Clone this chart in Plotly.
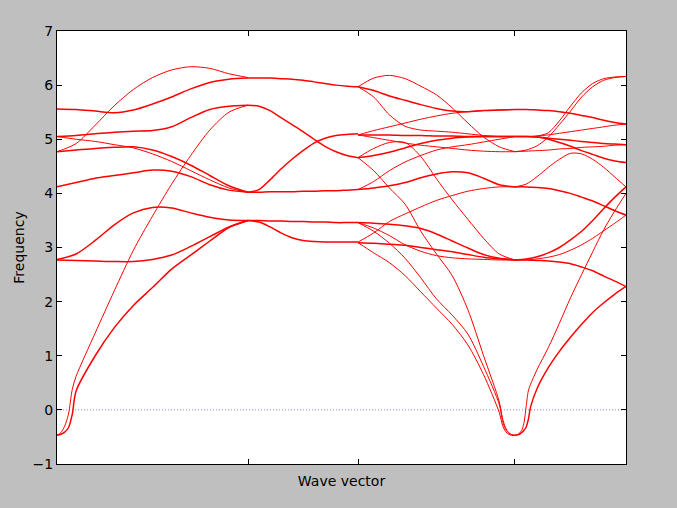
import plotly.graph_objs as go

# high-symmetry points along the path (axis units 0..1) and the y ticks
Q_POINTS = [0.0, 0.3357, 0.5290, 0.8049, 1.0]
Y_TICKS = [-1, 0, 1, 2, 3, 4, 5, 6, 7]
Y_TICK_TEXT = ['\u22121', '0', '1', '2', '3', '4', '5', '6', '7']
ZERO_X = [0.0, 1.0]
ZERO_Y = [0.0, 0.0]

# sampling positions inside a segment (fraction of the segment)
STEP = [0.0, 0.1, 0.2, 0.3, 0.4, 0.5, 0.6, 0.7, 0.8, 0.9, 1.0]
FINE_SEG1 = [0.0, 0.02, 0.04, 0.06, 0.08, 0.1, 0.2, 0.3, 0.4, 0.5, 0.6, 0.7, 0.8, 0.9, 1.0]
FINE_SEG3 = [0.0, 0.1, 0.2, 0.3, 0.4, 0.5, 0.6, 0.7, 0.8, 0.9, 0.92, 0.94, 0.96, 0.98, 1.0]
FINE_SEG4 = [0.0, 0.02, 0.04, 0.06, 0.08, 0.1, 0.12, 0.14, 0.2, 0.3, 0.4, 0.5, 0.6, 0.7, 0.8, 0.9, 1.0]

# segment 1
S1_TOP = [4.77, 4.92, 5.26, 5.62, 5.92, 6.14, 6.28, 6.34, 6.31, 6.21, 6.14]
S1_555 = [5.56, 5.55, 5.52, 5.49, 5.54, 5.65, 5.78, 5.93, 6.05, 6.11, 6.13]
S1_505_UP = [5.05, 5.07, 5.10, 5.13, 5.15, 5.16, 5.23, 5.40, 5.55, 5.61, 5.63]
S1_505_DN = [5.05, 5.00, 4.96, 4.90, 4.84, 4.73, 4.59, 4.42, 4.25, 4.10, 4.02]
S1_485 = [4.77, 4.80, 4.83, 4.85, 4.86, 4.80, 4.68, 4.52, 4.33, 4.14, 4.02]
S1_412 = [4.12, 4.20, 4.28, 4.33, 4.38, 4.43, 4.41, 4.31, 4.16, 4.06, 4.02]
S1_277_HUMP = [2.78, 2.88, 3.13, 3.42, 3.64, 3.74, 3.73, 3.64, 3.56, 3.51, 3.50]
S1_277_FLAT = [2.77, 2.76, 2.75, 2.74, 2.74, 2.78, 2.86, 3.02, 3.20, 3.38, 3.50]
S1_AC_STEEP = [-0.47, -0.42, -0.30, -0.08, 0.38, 0.62, 1.42, 2.20, 2.95, 3.58, 4.17, 4.70, 5.17, 5.50, 5.63]
S1_AC_SOFT = [-0.47, -0.45, -0.41, -0.33, -0.08, 0.35, 1.00, 1.52, 1.93, 2.26, 2.60, 2.86, 3.12, 3.37, 3.50]

# segment 2
S2_TOP = [6.13, 6.13, 6.13, 6.12, 6.11, 6.09, 6.06, 6.03, 6.00, 5.98, 5.97]
S2_DN = [5.63, 5.61, 5.53, 5.40, 5.27, 5.14, 5.00, 4.87, 4.77, 4.70, 4.66]
S2_UP = [4.02, 4.07, 4.25, 4.45, 4.63, 4.79, 4.93, 5.02, 5.07, 5.09, 5.10]
S2_FLAT4 = [4.02, 4.02, 4.03, 4.03, 4.03, 4.04, 4.04, 4.05, 4.05, 4.06, 4.07]
S2_FLAT35 = [3.50, 3.50, 3.49, 3.49, 3.48, 3.48, 3.47, 3.47, 3.46, 3.46, 3.46]
S2_DN35 = [3.50, 3.47, 3.38, 3.27, 3.18, 3.13, 3.11, 3.10, 3.10, 3.10, 3.10]

# segment 3
S3_A = [5.97, 6.13, 6.18, 6.12, 5.98, 5.82, 5.58, 5.30, 5.04, 4.86, 4.77]
S3_B = [5.97, 5.90, 5.80, 5.72, 5.64, 5.57, 5.52, 5.51, 5.53, 5.54, 5.55]
S3_C = [5.97, 5.78, 5.45, 5.24, 5.17, 5.15, 5.13, 5.10, 5.07, 5.05, 5.05]
S3_RISE = [5.08, 5.16, 5.23, 5.30, 5.37, 5.43, 5.48, 5.51, 5.53, 5.54, 5.55]
S3_FLAT = [5.08, 5.08, 5.08, 5.07, 5.07, 5.06, 5.06, 5.05, 5.05, 5.05, 5.05]
S3_DN477 = [5.08, 5.03, 4.98, 4.93, 4.89, 4.86, 4.83, 4.80, 4.78, 4.77, 4.77]
S3_466_UP = [4.66, 4.70, 4.76, 4.84, 4.92, 4.98, 5.02, 5.04, 5.05, 5.05, 5.05]
S3_466_HUMP = [4.66, 4.83, 4.94, 4.94, 4.68, 4.27, 3.88, 3.52, 3.17, 2.88, 2.77]
S3_407_HUMP = [4.07, 4.10, 4.14, 4.20, 4.29, 4.36, 4.40, 4.38, 4.28, 4.16, 4.12]
S3_407_UP = [4.07, 4.22, 4.42, 4.58, 4.70, 4.80, 4.86, 4.90, 4.95, 5.00, 5.05]
S3_31_UP = [3.10, 3.27, 3.48, 3.62, 3.75, 3.87, 3.96, 4.04, 4.09, 4.12, 4.12]
S3_346_G1 = [3.46, 3.45, 3.43, 3.40, 3.35, 3.25, 3.12, 2.99, 2.87, 2.80, 2.77]
S3_346_G3 = [3.46, 3.36, 3.22, 3.05, 2.93, 2.85, 2.81, 2.79, 2.78, 2.77, 2.77]
S3_31_G2 = [3.09, 3.08, 3.06, 3.04, 3.00, 2.96, 2.92, 2.87, 2.82, 2.79, 2.77]
S3_DIP_A = [4.66, 4.42, 4.10, 3.80, 3.30, 2.88, 2.48, 1.85, 1.00, 0.15, -0.15, -0.33, -0.42, -0.46, -0.47]
S3_DIP_B = [3.46, 3.30, 3.08, 2.80, 2.44, 2.05, 1.75, 1.40, 0.80, 0.10, -0.20, -0.36, -0.43, -0.46, -0.47]
S3_DIP_C = [3.09, 2.90, 2.72, 2.48, 2.18, 1.88, 1.58, 1.20, 0.65, -0.05, -0.28, -0.40, -0.45, -0.47, -0.47]

# segment 4
S4_477_TOP = [4.77, 4.80, 4.88, 5.04, 5.27, 5.52, 5.78, 5.97, 6.09, 6.14, 6.16]
S4_505_TOP = [5.05, 5.05, 5.06, 5.12, 5.34, 5.61, 5.86, 6.03, 6.12, 6.15, 6.16]
S4_555 = [5.55, 5.55, 5.54, 5.53, 5.51, 5.48, 5.44, 5.40, 5.35, 5.31, 5.28]
S4_505_UP = [5.05, 5.05, 5.06, 5.08, 5.11, 5.14, 5.17, 5.20, 5.23, 5.26, 5.28]
S4_505_DN = [5.05, 5.05, 5.04, 5.02, 5.00, 4.98, 4.96, 4.94, 4.92, 4.91, 4.90]
S4_477_UP = [4.77, 4.78, 4.79, 4.80, 4.82, 4.83, 4.85, 4.86, 4.87, 4.89, 4.90]
S4_505_DN457 = [5.05, 5.05, 5.04, 5.00, 4.94, 4.87, 4.79, 4.72, 4.65, 4.60, 4.57]
S4_412_HUMP = [4.12, 4.17, 4.31, 4.48, 4.63, 4.74, 4.73, 4.63, 4.48, 4.30, 4.12]
S4_412_DN = [4.12, 4.12, 4.11, 4.09, 4.05, 4.00, 3.93, 3.86, 3.77, 3.68, 3.60]
S4_277_DN = [2.77, 2.77, 2.76, 2.75, 2.73, 2.70, 2.64, 2.57, 2.47, 2.38, 2.28]
S4_277_UP4 = [2.77, 2.79, 2.83, 2.90, 3.00, 3.14, 3.30, 3.50, 3.72, 3.93, 4.12]
S4_277_UP36 = [2.77, 2.77, 2.79, 2.82, 2.87, 2.95, 3.05, 3.17, 3.31, 3.45, 3.60]
S4_AC_STEEP = [-0.47, -0.46, -0.43, -0.38, -0.25, 0.05, 0.35, 0.47, 0.75, 1.15, 1.60, 2.07, 2.50, 2.92, 3.33, 3.68, 4.00]
S4_AC_SOFT = [-0.47, -0.46, -0.45, -0.42, -0.38, -0.32, -0.18, 0.05, 0.40, 0.78, 1.08, 1.34, 1.58, 1.80, 1.98, 2.14, 2.28]

THIN = 1.0
THICK = 1.5

bands = [
    (0, STEP, S1_TOP, THIN), (0, STEP, S1_555, THICK), (0, STEP, S1_505_UP, THICK),
    (0, STEP, S1_505_DN, THIN), (0, STEP, S1_485, THICK), (0, STEP, S1_412, THICK),
    (0, STEP, S1_277_HUMP, THICK), (0, STEP, S1_277_FLAT, THICK),
    (0, FINE_SEG1, S1_AC_STEEP, THIN), (0, FINE_SEG1, S1_AC_SOFT, THICK),
    (1, STEP, S2_TOP, THICK), (1, STEP, S2_DN, THICK), (1, STEP, S2_UP, THICK),
    (1, STEP, S2_FLAT4, THICK), (1, STEP, S2_FLAT35, THICK), (1, STEP, S2_DN35, THICK),
    (2, STEP, S3_A, THIN), (2, STEP, S3_B, THICK), (2, STEP, S3_C, THIN),
    (2, STEP, S3_RISE, THIN), (2, STEP, S3_FLAT, THICK), (2, STEP, S3_DN477, THIN),
    (2, STEP, S3_466_UP, THICK), (2, STEP, S3_466_HUMP, THIN), (2, STEP, S3_407_HUMP, THICK),
    (2, STEP, S3_407_UP, THIN), (2, STEP, S3_31_UP, THIN), (2, STEP, S3_346_G1, THICK),
    (2, STEP, S3_346_G3, THIN), (2, STEP, S3_31_G2, THICK),
    (2, FINE_SEG3, S3_DIP_A, THIN), (2, FINE_SEG3, S3_DIP_B, THIN), (2, FINE_SEG3, S3_DIP_C, THIN),
    (3, STEP, S4_477_TOP, THIN), (3, STEP, S4_505_TOP, THIN), (3, STEP, S4_555, THICK),
    (3, STEP, S4_505_UP, THIN), (3, STEP, S4_505_DN, THICK), (3, STEP, S4_477_UP, THIN),
    (3, STEP, S4_505_DN457, THICK), (3, STEP, S4_412_HUMP, THIN), (3, STEP, S4_412_DN, THICK),
    (3, STEP, S4_277_DN, THICK), (3, STEP, S4_277_UP4, THICK), (3, STEP, S4_277_UP36, THIN),
    (3, FINE_SEG4, S4_AC_STEEP, THIN), (3, FINE_SEG4, S4_AC_SOFT, THICK),
]


def seg_x(i, fracs):
    a, b = Q_POINTS[i], Q_POINTS[i + 1]
    return [a + f * (b - a) for f in fracs]


fig = go.Figure()

# dotted zero line
fig.add_trace(go.Scatter(x=ZERO_X, y=ZERO_Y, mode='lines', hoverinfo='skip', showlegend=False,
                         line=dict(color='rgba(70,70,200,0.65)', width=1, dash='1px,2px')))

for seg, fracs, freqs, w in bands:
    fig.add_trace(go.Scatter(x=seg_x(seg, fracs), y=freqs, mode='lines', hoverinfo='skip',
                             showlegend=False,
                             line=dict(color='#ff0000', width=w, shape='spline', smoothing=0.8)))

axis_font = dict(family='DejaVu Sans', size=14, color='black')

fig.update_layout(
    width=677, height=508,
    margin=dict(l=57, r=51, t=31, b=44),
    paper_bgcolor='#bfbfbf', plot_bgcolor='white',
    font=axis_font,
)
fig.update_xaxes(range=[0, 1], showgrid=False, zeroline=False,
                 tickvals=Q_POINTS[1:-1], ticktext=['', '', ''],
                 ticks='inside', ticklen=5, tickcolor='black', tickwidth=1,
                 showline=True, linecolor='black', linewidth=1, mirror='ticks',
                 title=dict(text='Wave vector', font=axis_font, standoff=9))
fig.update_yaxes(range=[-1, 7], showgrid=False, zeroline=False,
                 tickvals=Y_TICKS, ticktext=Y_TICK_TEXT, tickfont=axis_font,
                 ticks='inside', ticklen=5, tickcolor='black', tickwidth=1,
                 showline=True, linecolor='black', linewidth=1, mirror='ticks',
                 title=dict(text='Frequency', font=axis_font, standoff=4))

# drop the default page margin so the figure sits at the window corner
fig.write_html("out.html", config={'displayModeBar': False},
               post_script="document.body.style.margin='0';"
                           "document.body.style.background='#bfbfbf';")
